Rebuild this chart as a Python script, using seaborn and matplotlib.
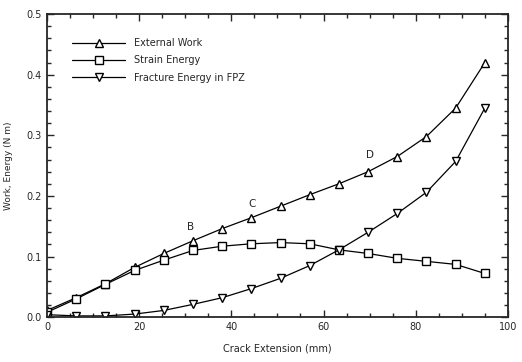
import matplotlib
matplotlib.use("Agg")
import matplotlib.pyplot as plt
import seaborn as sns
import pandas as pd
from matplotlib.ticker import MultipleLocator

# crack extension steps (mm)
crack_ext = [0, 6.33, 12.67, 19.0, 25.33, 31.67, 38.0, 44.33, 50.67,
             57.0, 63.33, 69.67, 76.0, 82.33, 88.67, 95.0]

external_work = [0.011, 0.032, 0.055, 0.082, 0.105, 0.126, 0.146, 0.164, 0.183,
                 0.202, 0.220, 0.240, 0.265, 0.298, 0.345, 0.420]
strain_energy = [0.008, 0.030, 0.054, 0.077, 0.094, 0.110, 0.117, 0.121, 0.123,
                 0.121, 0.111, 0.105, 0.097, 0.092, 0.087, 0.072]
fracture_fpz = [0.004, 0.002, 0.002, 0.005, 0.011, 0.021, 0.032, 0.047, 0.064,
                0.085, 0.111, 0.140, 0.171, 0.206, 0.257, 0.345]

series_names = ["External Work", "Strain Energy", "Fracture Energy in FPZ"]
point_labels = ["B", "C", "D"]
label_x = [31.2, 44.5, 70.0]
label_y = [0.148, 0.186, 0.267]

df = pd.DataFrame({
    "crack": crack_ext * 3,
    "value": external_work + strain_energy + fracture_fpz,
    "series": sum([[n] * len(crack_ext) for n in series_names], []),
})

sns.set_style("ticks")
plt.rcParams["font.family"] = ["DejaVu Sans"]

fig = plt.figure(figsize=(5.22, 3.62), dpi=100)
ax = fig.add_axes([0.09, 0.124, 0.883, 0.837])

markers = {"External Work": "^", "Strain Energy": "s", "Fracture Energy in FPZ": "v"}
sns.lineplot(data=df, x="crack", y="value", hue="series", style="series",
             palette=["black"] * 3, markers=markers, dashes=False,
             markersize=5.5, markerfacecolor="white", markeredgecolor="black",
             markeredgewidth=1.0, linewidth=0.9, ax=ax)

for t, x, y in zip(point_labels, label_x, label_y):
    ax.text(x, y, t, ha="center", va="center", fontsize=7.5)

ax.set_xlim(0, 100)
ax.set_ylim(0, 0.5)
ax.xaxis.set_major_locator(MultipleLocator(20))
ax.xaxis.set_minor_locator(MultipleLocator(5))
ax.yaxis.set_major_locator(MultipleLocator(0.1))
ax.yaxis.set_minor_locator(MultipleLocator(0.02))
ax.yaxis.set_major_formatter(matplotlib.ticker.FormatStrFormatter("%.1f"))
ax.tick_params(which="both", direction="in", top=True, right=True,
               labelsize=7, width=1.0)
ax.tick_params(which="major", length=5)
ax.tick_params(which="minor", length=3)
for s in ax.spines.values():
    s.set_linewidth(1.3)

ax.set_xlabel("Crack Extension (mm)", fontsize=7, labelpad=8)
ax.set_ylabel("Work, Energy (N m)", fontsize=6.5, labelpad=10)

leg = ax.legend(title=None, loc="upper left", bbox_to_anchor=(0.035, 0.95),
                frameon=False, fontsize=7, handlelength=5.5, handletextpad=0.9,
                labelspacing=0.75)

fig.savefig("out.png", dpi=100)
